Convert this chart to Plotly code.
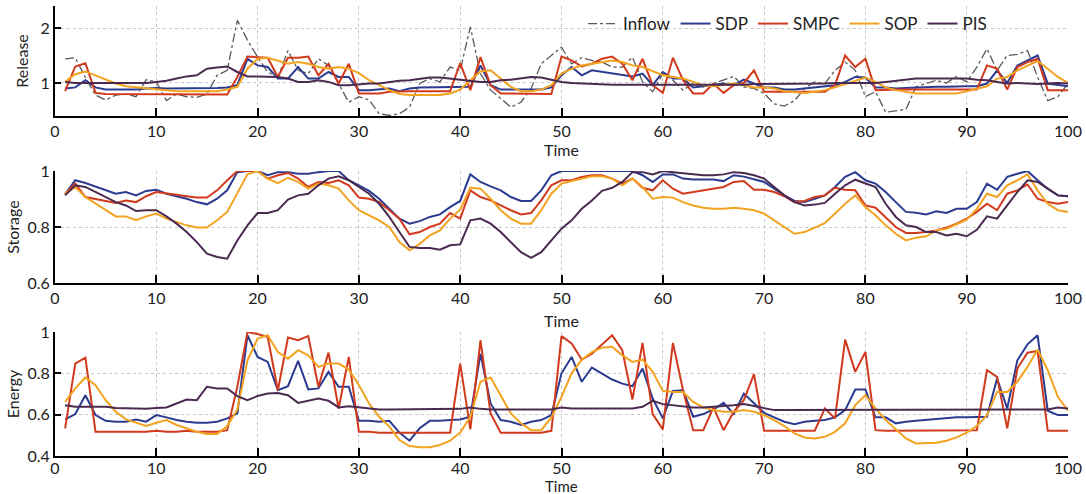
import plotly.graph_objects as go
from plotly.subplots import make_subplots

t = list(range(1, 101))

release_inflow = [1.44,1.46,1.10,0.78,0.69,0.78,0.80,0.75,1.06,1.02,
                  0.68,0.80,0.75,0.74,0.80,1.14,1.23,2.14,1.78,1.47,
                  1.20,1.10,1.59,1.23,1.17,1.44,1.32,0.99,0.65,0.75,
                  0.69,0.44,0.41,0.44,0.56,0.99,1.08,1.02,1.29,1.23,
                  2.02,1.17,0.87,0.72,0.56,0.65,0.90,1.35,1.50,1.65,
                  1.35,1.46,1.41,1.38,1.29,1.29,1.47,1.02,0.84,1.17,
                  1.05,0.87,0.99,0.93,0.99,1.05,1.12,0.93,0.90,0.81,
                  0.62,0.58,0.68,0.90,1.02,0.99,1.23,1.38,1.23,0.75,
                  0.84,0.47,0.50,0.52,0.93,0.99,1.05,1.00,1.12,1.02,
                  1.29,1.62,1.23,1.50,1.52,1.59,1.11,0.68,0.75,0.99]
release_sdp = [0.90,0.92,1.05,0.92,0.88,0.88,0.88,0.88,0.90,0.91,
               0.90,0.90,0.90,0.90,0.90,0.91,0.92,0.96,1.44,1.32,
               1.29,1.08,1.08,1.29,1.08,1.08,1.20,1.11,1.11,0.87,
               0.87,0.88,0.90,0.85,0.90,0.92,0.92,0.92,0.92,0.92,
               0.93,1.32,0.96,0.88,0.88,0.88,0.88,0.88,0.92,1.14,
               1.29,1.14,1.23,1.20,1.17,1.14,1.12,1.17,0.96,1.20,
               1.08,1.08,0.92,0.94,0.96,0.99,0.96,1.06,0.99,0.92,
               0.92,0.88,0.88,0.90,0.92,0.94,0.96,1.02,1.11,1.10,
               0.92,0.92,0.90,0.91,0.92,0.92,0.93,0.93,0.94,0.94,
               0.94,0.99,1.23,1.00,1.32,1.41,1.50,0.99,0.96,0.94]
release_smpc = [0.85,1.30,1.36,0.82,0.80,0.80,0.80,0.80,0.80,0.79,
                0.79,0.79,0.79,0.79,0.79,0.79,0.79,1.11,1.48,1.47,
                1.46,1.11,1.46,1.46,1.48,1.14,1.35,0.99,1.35,0.81,
                0.81,0.81,0.84,0.85,0.85,0.85,0.85,0.85,0.85,1.36,
                0.87,1.47,0.96,0.81,0.81,0.81,0.81,0.81,0.80,1.48,
                1.41,1.30,1.35,1.44,1.48,1.35,1.05,1.44,0.96,0.82,
                1.46,1.05,0.81,0.81,0.99,0.82,0.96,1.00,1.23,0.84,
                0.84,0.84,0.84,0.84,0.84,0.84,0.96,1.50,1.29,1.44,
                0.87,0.88,0.88,0.88,0.88,0.88,0.88,0.88,0.88,0.88,
                0.88,1.32,1.26,0.88,1.29,1.38,1.44,0.87,0.87,0.87]
release_sop = [1.02,1.16,1.21,1.14,1.06,0.99,0.94,0.92,0.90,0.88,
               0.86,0.85,0.85,0.85,0.85,0.85,0.88,0.93,1.26,1.44,
               1.46,1.41,1.35,1.38,1.35,1.29,1.26,1.29,1.26,1.18,
               1.05,0.96,0.87,0.80,0.78,0.78,0.78,0.78,0.81,0.88,
               1.05,1.21,1.23,1.08,0.93,0.85,0.85,0.88,0.96,1.17,
               1.26,1.32,1.35,1.38,1.41,1.38,1.32,1.29,1.22,1.14,
               1.11,1.08,1.02,0.96,0.94,0.96,0.99,0.96,0.92,0.92,
               0.90,0.85,0.84,0.82,0.84,0.87,0.92,0.98,1.05,1.10,
               1.02,0.92,0.87,0.84,0.81,0.81,0.81,0.81,0.81,0.85,
               0.90,0.94,1.08,1.11,1.23,1.32,1.40,1.26,1.11,1.00]
release_pis = [1.02,1.00,1.00,1.00,1.00,1.00,1.00,1.00,1.00,1.02,
               1.04,1.08,1.12,1.14,1.26,1.28,1.30,1.20,1.12,1.12,
               1.12,1.11,1.08,1.02,1.02,1.05,1.02,0.96,0.96,0.98,
               0.99,0.99,1.02,1.04,1.05,1.08,1.10,1.10,1.08,1.05,
               1.04,1.02,1.02,1.05,1.06,1.08,1.11,1.10,1.06,1.02,
               1.00,0.99,0.98,0.97,0.97,0.97,0.97,0.96,0.96,0.96,
               0.96,0.96,0.96,0.96,0.96,0.96,0.96,0.97,0.98,0.98,
               0.98,0.98,0.99,0.99,0.99,0.99,1.00,1.00,1.00,1.00,
               1.00,1.02,1.04,1.05,1.08,1.08,1.08,1.08,1.08,1.08,
               1.06,1.05,1.02,0.99,1.00,0.99,0.98,0.99,1.00,0.99]

storage_sdp = [0.917,0.967,0.957,0.945,0.931,0.919,0.925,0.913,0.929,0.933,
               0.919,0.910,0.901,0.889,0.881,0.901,0.931,0.996,1.000,1.000,
               0.985,0.996,0.996,0.990,0.990,0.996,1.000,1.000,0.967,0.949,
               0.929,0.901,0.865,0.830,0.812,0.821,0.836,0.845,0.871,0.893,
               0.988,0.961,0.945,0.931,0.907,0.893,0.893,0.931,0.985,1.000,
               1.000,1.000,1.000,1.000,1.000,1.000,1.000,0.985,0.961,0.988,
               0.988,0.973,0.970,0.970,0.970,0.964,0.985,0.980,0.970,0.961,
               0.937,0.913,0.893,0.889,0.901,0.913,0.943,0.979,0.996,0.967,
               0.955,0.925,0.889,0.854,0.851,0.845,0.856,0.850,0.865,0.865,
               0.889,0.955,0.933,0.979,0.990,1.000,0.967,0.937,0.913,0.910]
storage_smpc = [0.919,0.955,0.907,0.901,0.893,0.886,0.895,0.889,0.910,0.925,
                0.921,0.915,0.910,0.905,0.905,0.931,0.967,1.000,1.000,1.000,
                0.973,0.985,0.993,0.973,0.943,0.961,0.957,0.967,0.949,0.905,
                0.901,0.889,0.860,0.830,0.774,0.782,0.800,0.812,0.850,0.830,
                0.931,0.907,0.895,0.877,0.860,0.845,0.850,0.895,0.949,0.967,
                0.967,0.979,0.985,0.985,0.973,0.955,0.973,0.940,0.931,0.967,
                0.937,0.919,0.925,0.931,0.937,0.943,0.961,0.964,0.933,0.933,
                0.925,0.910,0.889,0.893,0.907,0.913,0.940,0.933,0.931,0.877,
                0.869,0.836,0.800,0.779,0.779,0.782,0.788,0.798,0.812,0.830,
                0.854,0.883,0.860,0.919,0.931,0.952,0.901,0.889,0.883,0.889]
storage_sop = [0.919,0.943,0.907,0.883,0.860,0.838,0.838,0.824,0.838,0.848,
               0.830,0.818,0.806,0.798,0.798,0.824,0.854,0.921,0.988,1.000,
               0.973,0.957,0.976,0.961,0.937,0.955,0.949,0.937,0.895,0.860,
               0.842,0.824,0.800,0.746,0.717,0.740,0.770,0.788,0.830,0.862,
               0.940,0.937,0.901,0.860,0.830,0.812,0.812,0.860,0.919,0.955,
               0.964,0.973,0.981,0.981,0.973,0.949,0.973,0.943,0.901,0.907,
               0.905,0.889,0.877,0.869,0.865,0.865,0.869,0.865,0.860,0.848,
               0.824,0.798,0.776,0.782,0.798,0.814,0.848,0.883,0.913,0.871,
               0.842,0.806,0.776,0.752,0.762,0.767,0.788,0.794,0.810,0.826,
               0.865,0.919,0.907,0.949,0.967,0.988,0.931,0.883,0.860,0.854]
storage_pis = [0.913,0.949,0.943,0.925,0.907,0.889,0.877,0.857,0.860,0.860,
               0.838,0.812,0.782,0.746,0.705,0.693,0.687,0.752,0.806,0.850,
               0.850,0.860,0.898,0.913,0.919,0.949,0.973,0.981,0.967,0.943,
               0.919,0.883,0.836,0.782,0.729,0.725,0.725,0.719,0.735,0.738,
               0.824,0.830,0.812,0.782,0.746,0.710,0.690,0.710,0.752,0.794,
               0.824,0.865,0.895,0.929,0.940,0.961,0.996,0.996,0.988,1.000,
               0.996,0.993,0.988,0.985,0.985,0.988,0.996,0.993,0.985,0.973,
               0.943,0.913,0.889,0.877,0.880,0.886,0.919,0.949,0.969,0.955,
               0.943,0.883,0.836,0.806,0.800,0.782,0.782,0.770,0.776,0.767,
               0.790,0.838,0.830,0.877,0.925,0.967,0.961,0.937,0.913,0.910]

energy_sdp = [0.577,0.603,0.694,0.598,0.570,0.566,0.566,0.577,0.566,0.598,
              0.587,0.574,0.566,0.561,0.561,0.566,0.582,0.606,0.984,0.879,
              0.855,0.718,0.738,0.860,0.722,0.727,0.807,0.735,0.735,0.570,
              0.570,0.566,0.570,0.513,0.474,0.534,0.570,0.570,0.574,0.577,
              0.590,0.895,0.654,0.574,0.566,0.550,0.566,0.574,0.598,0.800,
              0.879,0.759,0.828,0.800,0.770,0.750,0.738,0.823,0.678,0.582,
              0.715,0.718,0.590,0.603,0.625,0.657,0.603,0.702,0.657,0.609,
              0.587,0.566,0.554,0.566,0.570,0.574,0.587,0.622,0.722,0.722,
              0.587,0.587,0.558,0.566,0.570,0.574,0.577,0.582,0.587,0.587,
              0.587,0.590,0.775,0.630,0.863,0.940,0.984,0.619,0.598,0.598]
energy_smpc = [0.534,0.847,0.876,0.517,0.517,0.517,0.517,0.517,0.517,0.522,
               0.517,0.517,0.522,0.517,0.517,0.517,0.525,0.735,1.000,0.990,
               0.976,0.718,0.973,0.960,0.980,0.735,0.900,0.630,0.879,0.517,
               0.517,0.513,0.513,0.513,0.513,0.513,0.513,0.513,0.513,0.847,
               0.529,0.960,0.606,0.513,0.513,0.513,0.513,0.513,0.522,0.980,
               0.944,0.866,0.895,0.940,0.984,0.912,0.673,0.947,0.603,0.529,
               0.947,0.718,0.525,0.525,0.635,0.525,0.614,0.670,0.796,0.522,
               0.522,0.522,0.522,0.522,0.522,0.630,0.582,0.963,0.807,0.903,
               0.525,0.522,0.522,0.522,0.522,0.525,0.525,0.522,0.525,0.525,
               0.525,0.815,0.783,0.534,0.823,0.900,0.908,0.522,0.522,0.522]
energy_sop = [0.662,0.727,0.780,0.743,0.670,0.614,0.577,0.561,0.545,0.561,
              0.574,0.550,0.534,0.517,0.506,0.506,0.545,0.625,0.863,0.968,
              0.984,0.903,0.871,0.912,0.887,0.831,0.847,0.847,0.818,0.743,
              0.654,0.590,0.542,0.477,0.448,0.442,0.442,0.453,0.474,0.513,
              0.590,0.759,0.780,0.694,0.606,0.558,0.525,0.525,0.587,0.686,
              0.800,0.866,0.903,0.924,0.928,0.887,0.855,0.866,0.807,0.715,
              0.710,0.710,0.662,0.635,0.622,0.614,0.614,0.622,0.614,0.598,
              0.574,0.545,0.509,0.490,0.485,0.493,0.517,0.558,0.646,0.694,
              0.630,0.574,0.529,0.485,0.461,0.461,0.464,0.474,0.490,0.513,
              0.545,0.598,0.710,0.710,0.759,0.831,0.915,0.815,0.686,0.619]
energy_pis = [0.646,0.638,0.638,0.638,0.638,0.632,0.630,0.628,0.628,0.632,
              0.635,0.654,0.673,0.670,0.735,0.727,0.727,0.690,0.670,0.690,
              0.702,0.705,0.694,0.657,0.667,0.678,0.667,0.635,0.641,0.635,
              0.630,0.625,0.625,0.625,0.625,0.625,0.625,0.625,0.625,0.628,
              0.635,0.628,0.625,0.625,0.625,0.625,0.625,0.625,0.625,0.635,
              0.630,0.630,0.630,0.630,0.630,0.630,0.630,0.638,0.667,0.651,
              0.646,0.641,0.635,0.635,0.638,0.641,0.646,0.651,0.641,0.630,
              0.622,0.622,0.622,0.622,0.622,0.622,0.622,0.622,0.622,0.622,
              0.622,0.622,0.625,0.622,0.622,0.622,0.625,0.625,0.625,0.625,
              0.622,0.622,0.622,0.622,0.622,0.622,0.625,0.625,0.635,0.630]

x_ticks = [0, 10, 20, 30, 40, 50, 60, 70, 80, 90, 100]

C_INFLOW = "#5a5a5a"
C_SDP = "#2b3b90"
C_SMPC = "#d23a1e"
C_SOP = "#f2a320"
C_PIS = "#4a2a50"

fig = make_subplots(rows=3, cols=1, shared_xaxes=False, vertical_spacing=0.1)

def add(row, y, name, color, dash="solid", width=2, show=False):
    fig.add_trace(go.Scatter(x=t, y=y, mode="lines", name=name,
                             line=dict(color=color, width=width, dash=dash),
                             showlegend=show, legendgroup=name), row=row, col=1)

add(1, release_inflow, "Inflow", C_INFLOW, dash="dashdot", width=1.3, show=True)
add(1, release_sdp, "SDP", C_SDP, show=True)
add(1, release_smpc, "SMPC", C_SMPC, show=True)
add(1, release_sop, "SOP", C_SOP, show=True)
add(1, release_pis, "PIS", C_PIS, show=True)

add(2, storage_sdp, "SDP", C_SDP)
add(2, storage_smpc, "SMPC", C_SMPC)
add(2, storage_sop, "SOP", C_SOP)
add(2, storage_pis, "PIS", C_PIS)

add(3, energy_sdp, "SDP", C_SDP)
add(3, energy_smpc, "SMPC", C_SMPC)
add(3, energy_sop, "SOP", C_SOP)
add(3, energy_pis, "PIS", C_PIS)

FONT = "Lato"
TXT = "#222222"
common_x = dict(range=[0, 100], tickvals=x_ticks, showline=True, linecolor="black",
                linewidth=2, ticks="inside", ticklen=8, tickwidth=2, tickcolor="black",
                showgrid=True, gridcolor="#c8c8c8", griddash="dot", gridwidth=1,
                zeroline=False, automargin=False,
                tickfont=dict(size=16, color=TXT, family=FONT))
common_y = dict(showline=True, linecolor="black", linewidth=2, ticks="inside",
                ticklen=6, tickwidth=2, tickcolor="black", showgrid=True,
                gridcolor="#c8c8c8", griddash="dot", gridwidth=1, zeroline=False,
                automargin=False, tickfont=dict(size=16, color=TXT, family=FONT))

fig.update_xaxes(**common_x)
fig.update_xaxes(ticklabelstandoff=-3, row=3, col=1)
fig.update_yaxes(**common_y)
fig.update_yaxes(range=[0.4, 2.4], tickvals=[1, 2], ticktext=["1", "2"],
                 title=dict(text="Release", font=dict(size=16, family=FONT, color=TXT), standoff=8),
                 domain=[0.7556, 1.0], row=1, col=1)
fig.update_yaxes(range=[0.6, 1.0], tickvals=[0.6, 0.8, 1.0], ticktext=["0.6", "0.8", "1"],
                 title=dict(text="Storage", font=dict(size=16, family=FONT, color=TXT), standoff=4),
                 domain=[0.3844, 0.6333], row=2, col=1)
fig.update_yaxes(range=[0.4, 1.0], tickvals=[0.4, 0.6, 0.8, 1.0], ticktext=["0.4", "0.6", "0.8", "1"],
                 title=dict(text="Energy", font=dict(size=16, family=FONT, color=TXT), standoff=4),
                 domain=[0.0, 0.2756], row=3, col=1)

# "Time" x-axis titles placed as annotations (the lowest one sits close to its tick labels)
for ypos, fs in [(0.68, 16), (0.302, 16), (-0.067, 15)]:
    fig.add_annotation(text="Time", x=0.5, xref="paper", y=ypos, yref="paper",
                       showarrow=False, yanchor="middle",
                       font=dict(size=fs, family=FONT, color=TXT))

fig.update_layout(
    width=1086, height=494,
    margin=dict(l=55, r=18, t=6, b=38),
    paper_bgcolor="white", plot_bgcolor="white",
    font=dict(family=FONT, color=TXT),
    legend=dict(orientation="h", x=0.925, xanchor="right", y=1.0, yanchor="top",
                bgcolor="rgba(0,0,0,0)", font=dict(size=17, family=FONT, color=TXT),
                tracegroupgap=0),
)

fig.write_html("out.html", config={"displayModeBar": False},
               post_script="document.body.style.margin='0px';document.body.style.padding='0px';")
